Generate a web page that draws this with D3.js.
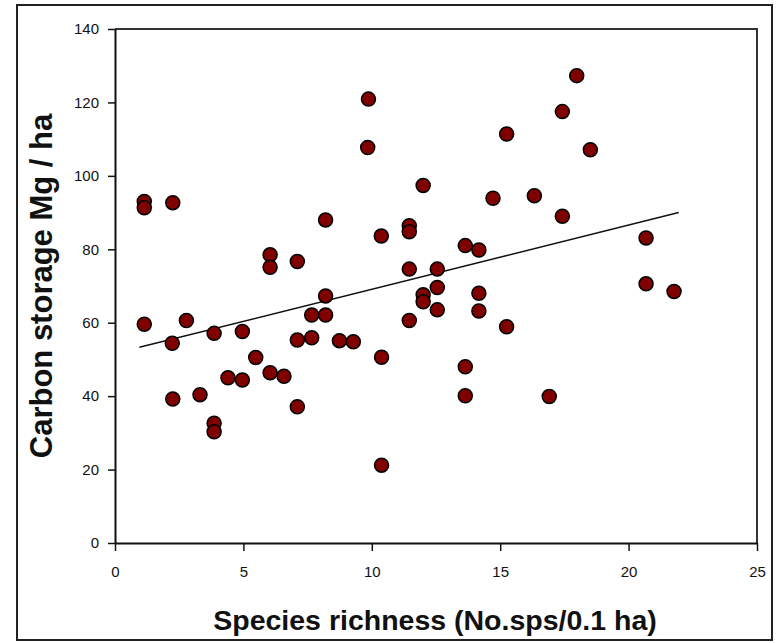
<!DOCTYPE html>
<html>
<head>
<meta charset="utf-8">
<script src="https://cdnjs.cloudflare.com/ajax/libs/d3/7.8.5/d3.min.js"></script>
<style>
  body { margin:0; background:#fff; }
  text { font-family: "Liberation Sans", Arial, sans-serif; }
</style>
</head>
<body>
<div class="svgWrap"></div>
<script>
// species richness (No.sps/0.1 ha)
var richness = [1.14,1.14,1.14,2.25,2.23,2.25,2.78,3.31,3.86,3.86,3.86,4.4,4.96,4.96,5.48,
  6.04,6.04,6.04,6.58,7.1,7.1,7.1,7.66,7.66,8.2,8.2,8.2,8.74,9.28,9.87,9.84,10.37,10.38,10.38,
  11.46,11.46,11.46,11.46,12.0,12.0,12.0,12.55,12.55,12.55,13.64,13.64,13.64,14.17,14.17,14.17,
  14.72,15.25,15.25,16.33,16.91,17.42,17.42,17.98,18.51,20.68,20.68,21.77];
// carbon storage Mg / ha
var carbon = [93.0,91.3,59.6,92.7,54.4,39.2,60.6,40.4,57.1,32.6,30.3,45.0,57.6,44.4,50.5,
  78.5,75.1,46.4,45.4,76.7,55.3,37.1,62.1,55.9,88.0,67.3,62.1,55.1,54.8,120.9,107.7,83.6,50.6,21.2,
  86.4,84.8,74.6,60.6,97.4,67.6,65.7,74.6,69.6,63.5,81.0,48.0,40.1,79.8,68.0,63.2,
  93.9,111.4,58.9,94.6,39.9,117.5,89.0,127.3,107.1,83.1,70.6,68.5];
// regression line end points
var trendX = [0.95, 21.95];
var trendY = [53.3, 90.0];
var xTicks = [0,5,10,15,20,25];
var yTicks = [0,20,40,60,80,100,120,140];

var W = 779, H = 643;
var plotL = 115, plotR = 757, plotT = 29, plotB = 543;

var svg = d3.select(".svgWrap")
  .append("svg")
  .attr("width", W)
  .attr("height", H);

// outer frame
svg.append("rect")
  .attr("x", 17).attr("y", 5)
  .attr("width", 755).attr("height", 635)
  .attr("fill", "none")
  .attr("stroke", "#222")
  .attr("stroke-width", 2);

var x = d3.scaleLinear().domain([0,25]).range([plotL,plotR]);
var y = d3.scaleLinear().domain([0,140]).range([plotB,plotT]);

// plot box (top/right)
svg.append("path")
  .attr("d", "M" + plotL + "," + plotT + "H" + plotR + "V" + plotB)
  .attr("fill", "none")
  .attr("stroke", "#333")
  .attr("stroke-width", 2);

//X Axis
var xAxis = svg.append("g")
  .attr("transform", "translate(0," + plotB + ")")
  .call(d3.axisBottom(x).tickValues(xTicks).tickSize(8).tickPadding(15).tickSizeOuter(0));

//Y Axis
var yAxis = svg.append("g")
  .attr("transform", "translate(" + plotL + ",0)")
  .call(d3.axisLeft(y).tickValues(yTicks).tickSize(7).tickPadding(9).tickSizeOuter(0));

[xAxis, yAxis].forEach(function(a){
  a.attr("font-size", null).attr("font-family", null);
  a.select(".domain").attr("stroke", "#111").attr("stroke-width", 2);
  a.selectAll(".tick line").attr("stroke", "#111").attr("stroke-width", 1.5);
  a.selectAll(".tick text")
    .attr("fill", "#111")
    .style("font-size", "15px");
});

// trend line
svg.append("line")
  .attr("x1", x(trendX[0])).attr("y1", y(trendY[0]))
  .attr("x2", x(trendX[1])).attr("y2", y(trendY[1]))
  .attr("stroke", "#111")
  .attr("stroke-width", 1.5);

// points
svg.selectAll("circle.pt")
  .data(richness)
  .enter()
  .append("circle")
  .attr("class", "pt")
  .attr("cx", function(d){ return x(d); })
  .attr("cy", function(d,i){ return y(carbon[i]); })
  .attr("r", 7)
  .attr("fill", "#800000")
  .attr("stroke", "#000")
  .attr("stroke-width", 1.5);

//X Axis Title
svg.append("text")
  .attr("x", (213 + 657) / 2)
  .attr("y", 630)
  .attr("text-anchor", "middle")
  .style("font-size", "28.5px")
  .style("font-weight", "bold")
  .attr("fill", "#111")
  .text("Species richness (No.sps/0.1 ha)");

//Y Axis Title
svg.append("text")
  .attr("transform", "translate(52,286) rotate(-90)")
  .attr("text-anchor", "middle")
  .style("font-size", "31px")
  .style("font-weight", "bold")
  .attr("fill", "#111")
  .text("Carbon storage Mg / ha");
</script>
</body>
</html>
